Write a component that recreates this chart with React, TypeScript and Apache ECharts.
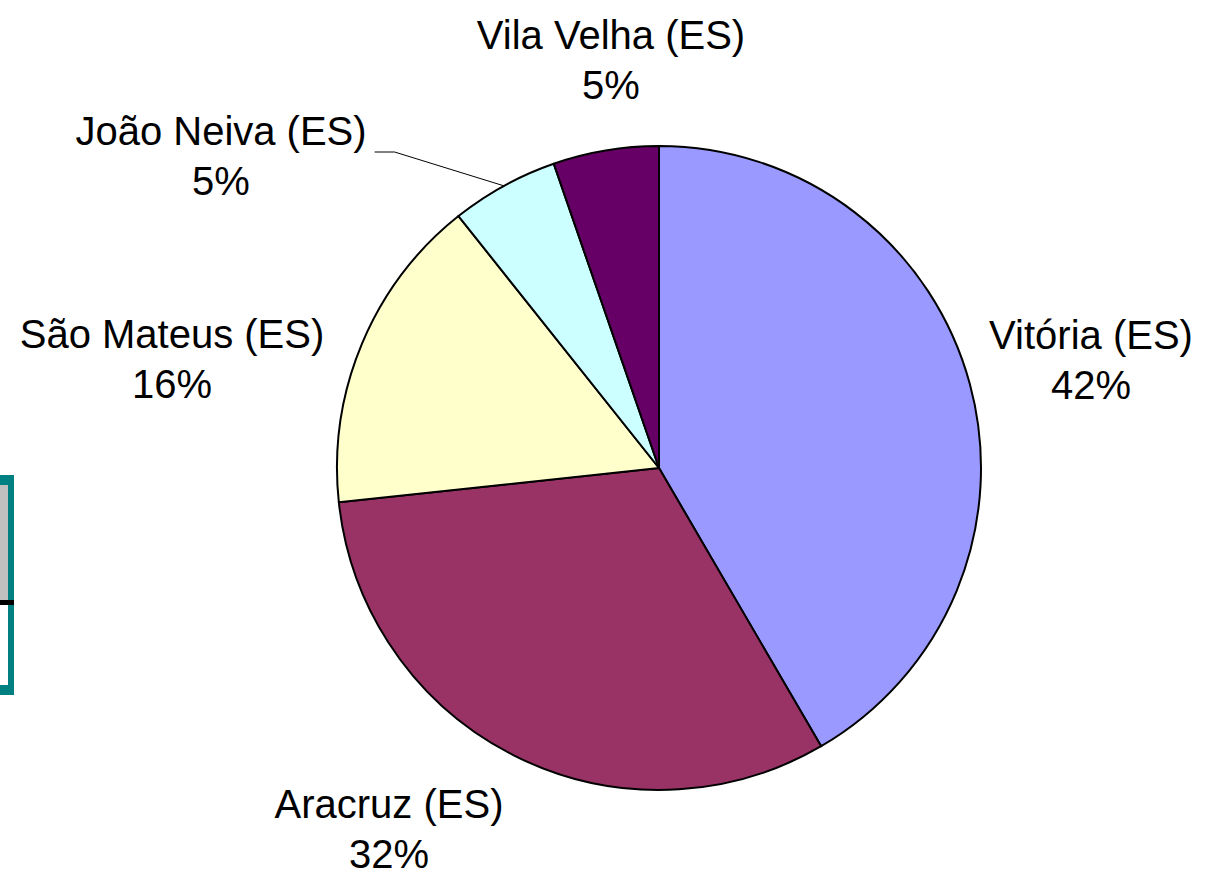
import React, { useEffect, useRef } from "react";
import * as echarts from "echarts";

const categories = ["Vitória (ES)", "Aracruz (ES)", "São Mateus (ES)", "João Neiva (ES)", "Vila Velha (ES)"];
const shares = [41.6, 31.7, 16.0, 5.4, 5.3];
const colors = ["#9999FF", "#993366", "#FFFFCC", "#CCFFFF", "#660066"];
// label block centres (chart pixels)
const labelCenters: [number, number][] = [
  [1091, 360],
  [389, 829],
  [172, 359],
  [221, 156],
  [611, 60],
];
const leaderIndex = 3;

const CX = 659;
const CY = 468;
const R = 322;

export default function App() {
  const ref = useRef<HTMLDivElement>(null);
  useEffect(() => {
    document.body.style.margin = "0";
    const chart = echarts.init(ref.current!, null, { renderer: "svg" });
    const total = shares.reduce((a, b) => a + b, 0);
    const midAngles: number[] = [];
    let cum = 0;
    shares.forEach((v) => {
      midAngles.push(((cum + v / 2) / total) * 2 * Math.PI);
      cum += v;
    });
    chart.setOption({
      animation: false,
      backgroundColor: "#ffffff",
      graphic: [
        { type: "rect", shape: { x: 0, y: 475, width: 14, height: 220 }, style: { fill: "#008080" } },
        { type: "rect", shape: { x: 0, y: 485, width: 8, height: 115 }, style: { fill: "#C0C0C0" } },
        { type: "rect", shape: { x: 0, y: 605, width: 8, height: 80 }, style: { fill: "#FFFFFF" } },
        { type: "rect", shape: { x: 0, y: 600, width: 14, height: 5 }, style: { fill: "#000000" } },
      ],
      series: [
        {
          type: "pie",
          center: [CX, CY],
          radius: [0, R],
          startAngle: 90,
          clockwise: true,
          percentPrecision: 0,
          avoidLabelOverlap: false,
          itemStyle: { borderColor: "#000000", borderWidth: 2 },
          emphasis: { disabled: true },
          label: {
            show: true,
            position: "outside",
            formatter: "{b}\n{d}%",
            fontFamily: "Liberation Sans, Arial, sans-serif",
            fontSize: 40,
            lineHeight: 50,
            color: "#000000",
            align: "center",
          },
          labelLine: { show: false, lineStyle: { color: "#000000", width: 1 } },
          labelLayout: (params: any) => {
            const i = params.dataIndex;
            const [x, y] = labelCenters[i];
            const out: any = { x, y, align: "center", verticalAlign: "middle" };
            if (i === leaderIndex) {
              const a = midAngles[i];
              const ax = CX + R * Math.sin(a);
              const ay = CY - R * Math.cos(a);
              const right = x + params.labelRect.width / 2;
              out.labelLinePoints = [
                [ax, ay],
                [right + 28, y - 4],
                [right + 8, y - 4],
              ];
            }
            return out;
          },
          data: categories.map((name, i) => ({
            name,
            value: shares[i],
            itemStyle: { color: colors[i] },
            labelLine: i === leaderIndex ? { show: true } : { show: false },
          })),
        },
      ],
    });
    return () => chart.dispose();
  }, []);
  return <div ref={ref} style={{ width: 1205, height: 874 }} />;
}
